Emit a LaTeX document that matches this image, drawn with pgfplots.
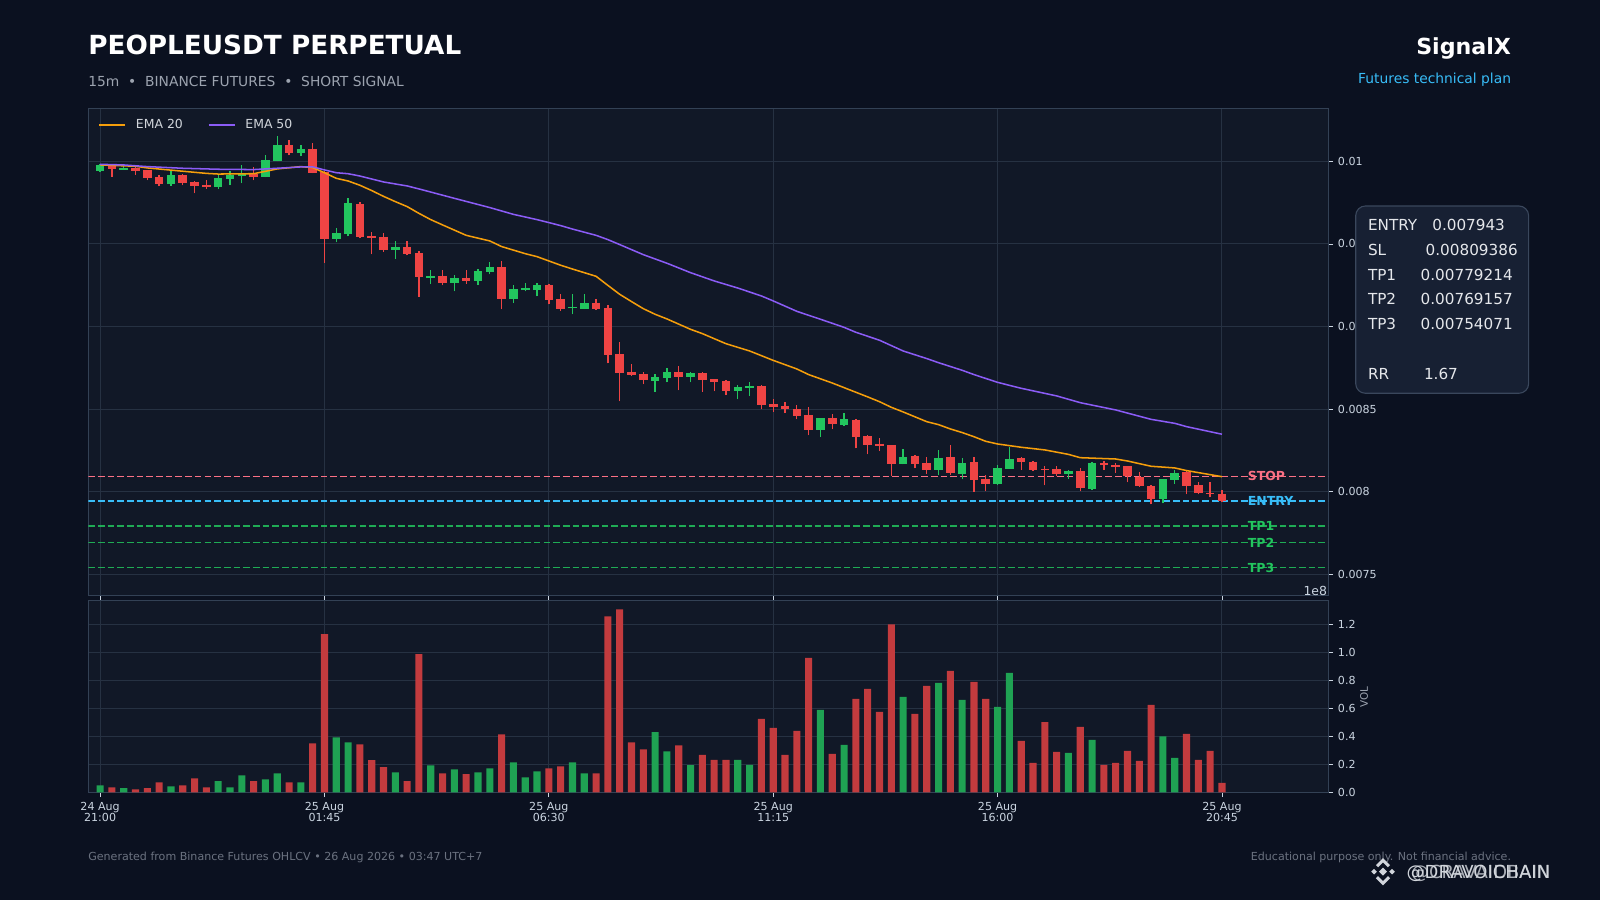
\documentclass[border=0pt]{standalone}
\usepackage{fontspec}
\setmainfont{DejaVu Sans}
\usepackage{pgfplots}
\usepackage{pgfplotstable}
\pgfplotsset{compat=1.18}

\definecolor{figbg}{HTML}{0B1120}
\definecolor{axbg}{HTML}{111827}
\definecolor{gridc}{HTML}{263142}
\definecolor{spine}{HTML}{334155}
\definecolor{tickc}{HTML}{CBD5E1}
\definecolor{upc}{HTML}{22C55E}
\definecolor{dnc}{HTML}{EF4444}
\definecolor{volup}{HTML}{1FA253}
\definecolor{voldn}{HTML}{C33B3E}
\definecolor{emaA}{HTML}{F59E0B}
\definecolor{emaB}{HTML}{8B5CF6}
\definecolor{stopc}{HTML}{FB7185}
\definecolor{entryc}{HTML}{38BDF8}
\definecolor{tpc}{HTML}{22C55E}
\definecolor{subc}{HTML}{9CA3AF}
\definecolor{footc}{HTML}{6B7280}
\definecolor{boxbg}{HTML}{172033}
\definecolor{boxedge}{HTML}{3A475C}
\definecolor{boxtext}{HTML}{E5E7EB}
\definecolor{legtext}{HTML}{D1D5DB}
\definecolor{wmc}{HTML}{D1D5DB}

\pgfplotstableread{
i o h l c g
0 0.009942 0.009982 0.009936 0.009978 1
1 0.009978 0.009980 0.009907 0.009956 0
2 0.009950 0.009972 0.009948 0.009962 1
3 0.009960 0.009964 0.009919 0.009942 0
4 0.009946 0.009950 0.009885 0.009901 0
5 0.009905 0.009919 0.009849 0.009865 0
6 0.009863 0.009940 0.009853 0.009917 1
7 0.009917 0.009921 0.009855 0.009871 0
8 0.009875 0.009879 0.009806 0.009853 0
9 0.009859 0.009885 0.009835 0.009847 0
10 0.009845 0.009917 0.009831 0.009899 1
11 0.009895 0.009942 0.009859 0.009919 1
12 0.009911 0.009976 0.009867 0.009923 1
13 0.009921 0.009968 0.009885 0.009905 0
14 0.009907 0.010036 0.009903 0.010008 1
15 0.010004 0.010151 0.010000 0.010099 1
16 0.010099 0.010129 0.010036 0.010053 0
17 0.010051 0.010097 0.010030 0.010075 1
18 0.010075 0.010109 0.009927 0.009931 0
19 0.009938 0.009942 0.009385 0.009532 0
20 0.009532 0.009595 0.009510 0.009566 1
21 0.009558 0.009776 0.009546 0.009748 1
22 0.009742 0.009756 0.009534 0.009544 0
23 0.009548 0.009570 0.009437 0.009538 0
24 0.009542 0.009564 0.009453 0.009465 0
25 0.009465 0.009516 0.009411 0.009484 1
26 0.009482 0.009516 0.009431 0.009441 0
27 0.009445 0.009455 0.009181 0.009300 0
28 0.009294 0.009342 0.009256 0.009306 1
29 0.009306 0.009342 0.009249 0.009266 0
30 0.009266 0.009310 0.009213 0.009294 1
31 0.009296 0.009342 0.009260 0.009276 0
32 0.009278 0.009346 0.009254 0.009336 1
33 0.009332 0.009389 0.009316 0.009360 1
34 0.009360 0.009395 0.009104 0.009169 0
35 0.009169 0.009249 0.009141 0.009227 1
36 0.009221 0.009262 0.009213 0.009231 1
37 0.009223 0.009262 0.009183 0.009251 1
38 0.009251 0.009256 0.009134 0.009163 0
39 0.009167 0.009197 0.009096 0.009108 0
40 0.009110 0.009195 0.009074 0.009120 1
41 0.009108 0.009195 0.009106 0.009143 1
42 0.009143 0.009165 0.009102 0.009106 0
43 0.009112 0.009132 0.008777 0.008830 0
44 0.008834 0.008904 0.008547 0.008721 0
45 0.008727 0.008771 0.008699 0.008709 0
46 0.008713 0.008725 0.008650 0.008678 0
47 0.008672 0.008713 0.008606 0.008695 1
48 0.008691 0.008747 0.008662 0.008725 1
49 0.008725 0.008759 0.008614 0.008697 0
50 0.008697 0.008725 0.008662 0.008719 1
51 0.008719 0.008723 0.008604 0.008678 0
52 0.008682 0.008684 0.008608 0.008666 0
53 0.008670 0.008674 0.008584 0.008612 0
54 0.008612 0.008644 0.008559 0.008634 1
55 0.008628 0.008662 0.008578 0.008638 1
56 0.008640 0.008644 0.008499 0.008527 0
57 0.008531 0.008563 0.008483 0.008515 0
58 0.008519 0.008541 0.008475 0.008499 0
59 0.008501 0.008527 0.008438 0.008461 0
60 0.008465 0.008515 0.008341 0.008376 0
61 0.008376 0.008446 0.008333 0.008446 1
62 0.008446 0.008469 0.008378 0.008412 0
63 0.008404 0.008475 0.008398 0.008442 1
64 0.008436 0.008438 0.008263 0.008333 0
65 0.008337 0.008341 0.008226 0.008285 0
66 0.008291 0.008327 0.008245 0.008279 0
67 0.008283 0.008285 0.008095 0.008170 0
68 0.008170 0.008257 0.008166 0.008210 1
69 0.008218 0.008224 0.008142 0.008170 0
70 0.008174 0.008208 0.008109 0.008134 0
71 0.008134 0.008251 0.008103 0.008206 1
72 0.008210 0.008281 0.008103 0.008115 0
73 0.008109 0.008202 0.008075 0.008174 1
74 0.008180 0.008208 0.008000 0.008073 0
75 0.008077 0.008103 0.008004 0.008049 0
76 0.008047 0.008164 0.008039 0.008144 1
77 0.008140 0.008273 0.008138 0.008198 1
78 0.008204 0.008208 0.008130 0.008182 0
79 0.008180 0.008188 0.008126 0.008134 0
80 0.008138 0.008154 0.008039 0.008130 0
81 0.008136 0.008156 0.008093 0.008109 0
82 0.008109 0.008134 0.008077 0.008124 1
83 0.008124 0.008142 0.008004 0.008025 0
84 0.008017 0.008180 0.008009 0.008174 1
85 0.008174 0.008184 0.008130 0.008162 0
86 0.008162 0.008176 0.008113 0.008152 0
87 0.008154 0.008158 0.008057 0.008093 0
88 0.008091 0.008122 0.008029 0.008033 0
89 0.008035 0.008043 0.007924 0.007956 0
90 0.007956 0.008079 0.007930 0.008075 1
91 0.008073 0.008132 0.008049 0.008111 1
92 0.008117 0.008124 0.007984 0.008037 0
93 0.008041 0.008057 0.007984 0.007990 0
94 0.007992 0.008057 0.007966 0.007984 0
95 0.007988 0.008013 0.007938 0.007943 0
}\candles

\tikzset{txt/.style={inner sep=0pt, outer sep=0pt}, px/.style={x=0.7227pt,y=0.7227pt}}

\begin{document}
\begin{tikzpicture}
\begin{scope}[px]
\fill[figbg] (0,0) rectangle (1600,900);
\useasboundingbox (0,0) rectangle (1600,900);
\end{scope}

% ---------- price panel ----------
\begin{axis}[
  at={(63.81pt,220.21pt)}, anchor=south west,
  scale only axis, width=896.1pt, height=351.95pt,
  xmin=-1, xmax=104, ymin=0.007373, ymax=0.010321,
  scaled y ticks=false,
  axis background/.style={fill=axbg},
  axis line style={draw=spine, line width=0.8pt},
  grid=major, major grid style={draw=gridc, line width=0.7pt},
  xtick={0,19,38,57,76,95}, xticklabels={}, xtick pos=bottom,
  ytick={0.0075,0.008,0.0085,0.009,0.0095,0.01},
  yticklabels={0.0075,0.008,0.0085,0.009,0.0095,0.01},
  ytick pos=right, yticklabel pos=right,
  tick align=outside, major tick length=3.5pt,
  major tick style={draw=tickc, line width=0.6pt},
  tick label style={font=\fontsize{8}{9.6}\selectfont, text=tickc},
  /pgf/number format/assume math mode=true,
  legend style={at={(0.00806,0.9663)}, anchor=west, draw=none, fill=none,
    inner sep=0pt, outer sep=0pt, font=\fontsize{9}{10.8}\selectfont, text=legtext,
    nodes={inner sep=0pt},
    /tikz/every odd column/.append style={column sep=7.2pt},
    /tikz/column 2/.append style={column sep=18pt}},
  legend columns=2, legend cell align=left,
  legend image code/.code={\draw[#1, line width=1.2pt] (0pt,0pt) -- (18.8pt,0pt);},
]
% level lines
\addplot[stopc, line width=0.95pt, dash pattern=on 4.8pt off 2.2pt, forget plot] coordinates {(-1,0.00809386) (104,0.00809386)};
\addplot[entryc, line width=0.95pt, dash pattern=on 4.8pt off 2.2pt, forget plot] coordinates {(-1,0.007943) (104,0.007943)};
\addplot[tpc, opacity=0.85, line width=0.95pt, dash pattern=on 4.8pt off 2.2pt, forget plot] coordinates {(-1,0.00779214) (104,0.00779214)};
\addplot[tpc, opacity=0.85, line width=0.95pt, dash pattern=on 4.8pt off 2.2pt, forget plot] coordinates {(-1,0.00769157) (104,0.00769157)};
\addplot[tpc, opacity=0.85, line width=0.95pt, dash pattern=on 4.8pt off 2.2pt, forget plot] coordinates {(-1,0.00754071) (104,0.00754071)};

% candles
\pgfplotsforeachungrouped \k in {0,...,95}{%
  \pgfplotstablegetelem{\k}{o}\of\candles\let\vo\pgfplotsretval
  \pgfplotstablegetelem{\k}{h}\of\candles\let\vh\pgfplotsretval
  \pgfplotstablegetelem{\k}{l}\of\candles\let\vl\pgfplotsretval
  \pgfplotstablegetelem{\k}{c}\of\candles\let\vc\pgfplotsretval
  \pgfplotstablegetelem{\k}{g}\of\candles
  \ifnum\pgfplotsretval=1 \def\cc{upc}\else\def\cc{dnc}\fi
  \edef\doit{%
    \noexpand\addplot[\cc, line width=0.95pt, forget plot] coordinates {(\k,\vl) (\k,\vh)};%
    \noexpand\addplot[\cc, line width=6.2pt, line cap=butt, forget plot] coordinates {(\k,\vo) (\k,\vc)};%
  }\doit
}

% EMAs
\addplot[emaA, line width=1.1pt] coordinates {
(0,0.009978) (3,0.009970) (4,0.009960) (7,0.009940) (9,0.009927) (10,0.009923)
(13,0.009925) (15,0.009954) (17,0.009968) (18,0.009962) (19,0.009931) (20,0.009897)
(21,0.009881) (22,0.009855) (23,0.009823) (24,0.009788) (25,0.009756) (26,0.009726)
(27,0.009685) (28,0.009647) (29,0.009615) (31,0.009552) (33,0.009518) (34,0.009484)
(36,0.009441) (37,0.009423) (39,0.009371) (40,0.009348) (42,0.009304) (43,0.009249)
(44,0.009195) (45,0.009151) (46,0.009108) (47,0.009074) (48,0.009046) (50,0.008983)
(51,0.008957) (53,0.008896) (55,0.008852) (57,0.008795) (59,0.008743) (60,0.008709)
(62,0.008658) (63,0.008630) (65,0.008574) (66,0.008545) (67,0.008511) (68,0.008483)
(70,0.008424) (71,0.008406) (72,0.008380) (73,0.008358) (74,0.008333) (75,0.008305)
(76,0.008289) (78,0.008269) (80,0.008253) (82,0.008226) (83,0.008206) (86,0.008198)
(87,0.008186) (89,0.008154) (91,0.008144) (92,0.008128) (95,0.008091)};
\addlegendentry{EMA 20}
\addplot[emaB, line width=1.1pt] coordinates {
(0,0.009982) (2,0.009978) (4,0.009968) (7,0.009958) (10,0.009952) (13,0.009950)
(14,0.009954) (16,0.009962) (17,0.009966) (18,0.009966) (19,0.009948) (20,0.009931)
(21,0.009925) (22,0.009911) (24,0.009875) (25,0.009863) (26,0.009851) (27,0.009833)
(30,0.009776) (33,0.009720) (35,0.009679) (36,0.009663) (37,0.009647) (39,0.009611)
(40,0.009590) (42,0.009552) (43,0.009526) (44,0.009496) (46,0.009435) (47,0.009409)
(48,0.009383) (50,0.009326) (52,0.009276) (54,0.009233) (56,0.009185) (57,0.009155)
(59,0.009092) (61,0.009044) (63,0.008995) (64,0.008965) (66,0.008917) (68,0.008852)
(70,0.008806) (71,0.008781) (73,0.008735) (74,0.008709) (76,0.008662) (78,0.008626)
(81,0.008580) (83,0.008539) (86,0.008495) (89,0.008438) (91,0.008414) (92,0.008394)
(95,0.008348)};
\addlegendentry{EMA 50}

\node[txt, anchor=west, text=stopc, font=\bfseries\fontsize{9}{10}\selectfont] at (axis cs:97.2,0.00809386) {STOP};
\node[txt, anchor=west, text=entryc, font=\bfseries\fontsize{9}{10}\selectfont] at (axis cs:97.2,0.007943) {ENTRY};
\node[txt, anchor=west, text=tpc, font=\bfseries\fontsize{9}{10}\selectfont] at (axis cs:97.2,0.00779214) {TP1};
\node[txt, anchor=west, text=tpc, font=\bfseries\fontsize{9}{10}\selectfont] at (axis cs:97.2,0.00769157) {TP2};
\node[txt, anchor=west, text=tpc, font=\bfseries\fontsize{9}{10}\selectfont] at (axis cs:97.2,0.00754071) {TP3};
\end{axis}

% ---------- volume panel ----------
\begin{axis}[
  at={(63.81pt,77.83pt)}, anchor=south west,
  scale only axis, width=896.1pt, height=138.76pt,
  xmin=-1, xmax=104, ymin=0, ymax=1.371,
  scaled y ticks=false,
  axis background/.style={fill=axbg},
  axis line style={draw=spine, line width=0.8pt},
  grid=major, major grid style={draw=gridc, line width=0.7pt},
  xtick={0,19,38,57,76,95},
  xticklabels={{24 Aug\\21:00},{25 Aug\\01:45},{25 Aug\\06:30},{25 Aug\\11:15},{25 Aug\\16:00},{25 Aug\\20:45}},
  xtick pos=bottom,
  x tick label style={align=center, font=\fontsize{8}{8}\selectfont},
  ytick={0,0.2,0.4,0.6,0.8,1.0,1.2},
  yticklabels={0.0,0.2,0.4,0.6,0.8,1.0,1.2},
  ytick pos=right, yticklabel pos=right,
  tick align=outside, major tick length=3.5pt,
  major tick style={draw=tickc, line width=0.6pt},
  tick label style={font=\fontsize{8}{8}\selectfont, text=tickc},
  /pgf/number format/assume math mode=true,
]
\addplot[ybar, bar width=0.6, bar shift=0pt, fill=volup, draw=none] coordinates {
(0,0.050) (2,0.029) (6,0.043) (10,0.079) (11,0.036) (12,0.121) (14,0.093) (15,0.136)
(17,0.071) (20,0.393) (21,0.357) (25,0.143) (28,0.193) (30,0.164) (32,0.143) (33,0.171)
(35,0.214) (36,0.107) (37,0.150) (40,0.214) (41,0.136) (47,0.429) (48,0.293) (50,0.194)
(54,0.231) (55,0.195) (61,0.588) (63,0.338) (68,0.681) (71,0.781) (73,0.660) (76,0.610)
(77,0.852) (82,0.281) (84,0.374) (90,0.400) (91,0.245)};
\addplot[ybar, bar width=0.6, bar shift=0pt, fill=voldn, draw=none] coordinates {
(1,0.036) (3,0.021) (4,0.029) (5,0.071) (7,0.050) (8,0.100) (9,0.036) (13,0.079)
(16,0.071) (18,0.350) (19,1.129) (22,0.343) (23,0.229) (24,0.179) (26,0.079) (27,0.986)
(29,0.136) (31,0.129) (34,0.414) (38,0.171) (39,0.186) (42,0.136) (43,1.257) (44,1.307)
(45,0.357) (46,0.307) (49,0.336) (51,0.267) (52,0.231) (53,0.231) (56,0.524) (57,0.460)
(58,0.267) (59,0.438) (60,0.960) (62,0.274) (64,0.667) (65,0.738) (66,0.574) (67,1.200)
(69,0.560) (70,0.760) (72,0.867) (74,0.788) (75,0.667) (78,0.367) (79,0.210) (80,0.502)
(81,0.288) (83,0.467) (85,0.195) (86,0.210) (87,0.295) (88,0.224) (89,0.624) (92,0.417)
(93,0.231) (94,0.295) (95,0.067)};
\end{axis}

\begin{scope}[px]
\node[txt, anchor=base east, text=tickc, font=\fontsize{9}{10}\selectfont] at (1327,304.3) {1e8};
\node[txt, rotate=90, text=subc, font=\fontsize{7.5}{9}\selectfont] at (1364,203) {VOL};

% ---------- titles ----------
\node[txt, anchor=base west, text=white, font=\bfseries\fontsize{19}{22}\selectfont] at (88.3,845.7) {PEOPLEUSDT PERPETUAL};
\node[txt, anchor=base west, text=subc, font=\fontsize{10}{12}\selectfont] at (88.3,813.3) {15m~~•~~BINANCE FUTURES~~•~~SHORT SIGNAL};
\node[txt, anchor=base east, text=white, font=\bfseries\fontsize{16}{19}\selectfont] at (1511,845.7) {SignalX};
\node[txt, anchor=base east, text=entryc, font=\fontsize{10}{12}\selectfont] at (1511,816) {Futures technical plan};

% ---------- info box ----------
\draw[fill=boxbg, draw=boxedge, line width=0.8pt, rounded corners=7pt] (1355.7,506.7) rectangle (1528.6,694);
\begin{scope}[every node/.style={txt, anchor=base west, text=boxtext, font=\fontsize{11}{13}\selectfont}]
\node at (1368,669.9) {ENTRY}; \node at (1432.3,669.9) {0.007943};
\node at (1368,644.4) {SL};    \node at (1425.7,644.4) {0.00809386};
\node at (1368,619.9) {TP1};   \node at (1420.7,619.9) {0.00779214};
\node at (1368,595.4) {TP2};   \node at (1420.7,595.4) {0.00769157};
\node at (1368,570.9) {TP3};   \node at (1420.7,570.9) {0.00754071};
\node at (1368,520.9) {RR};    \node at (1424,520.9) {1.67};
\end{scope}

% ---------- footer ----------
\node[txt, anchor=base west, text=footc, font=\fontsize{8}{9.6}\selectfont] at (88.3,40) {Generated from Binance Futures OHLCV • 26 Aug 2026 • 03:47 UTC+7};
\node[txt, anchor=base east, text=footc, font=\fontsize{8}{9.6}\selectfont] at (1511,40) {Educational purpose only. Not financial advice.};

% watermark
\fill[wmc] (1383,28.3) +(0,4) -- +(4,0) -- +(0,-4) -- +(-4,0) -- cycle;
\fill[wmc] (1374,28.3) +(0,2.8) -- +(2.8,0) -- +(0,-2.8) -- +(-2.8,0) -- cycle;
\fill[wmc] (1392,28.3) +(0,2.8) -- +(2.8,0) -- +(0,-2.8) -- +(-2.8,0) -- cycle;
\draw[wmc, line width=2.2pt] (1377,33.8) -- (1383,39.8) -- (1389,33.8);
\draw[wmc, line width=2.2pt] (1377,22.8) -- (1383,16.8) -- (1389,22.8);
\node[txt, anchor=base west, text=wmc, font=\fontsize{13}{15}\selectfont] at (1406.7,22) {@DRAVOICHAIN};
\node[txt, anchor=base west, text=wmc, opacity=0.8, font=\fontsize{13}{15}\selectfont] at (1411,22) {@CRAVAIDBAIN};
\end{scope}
\end{tikzpicture}
\end{document}
